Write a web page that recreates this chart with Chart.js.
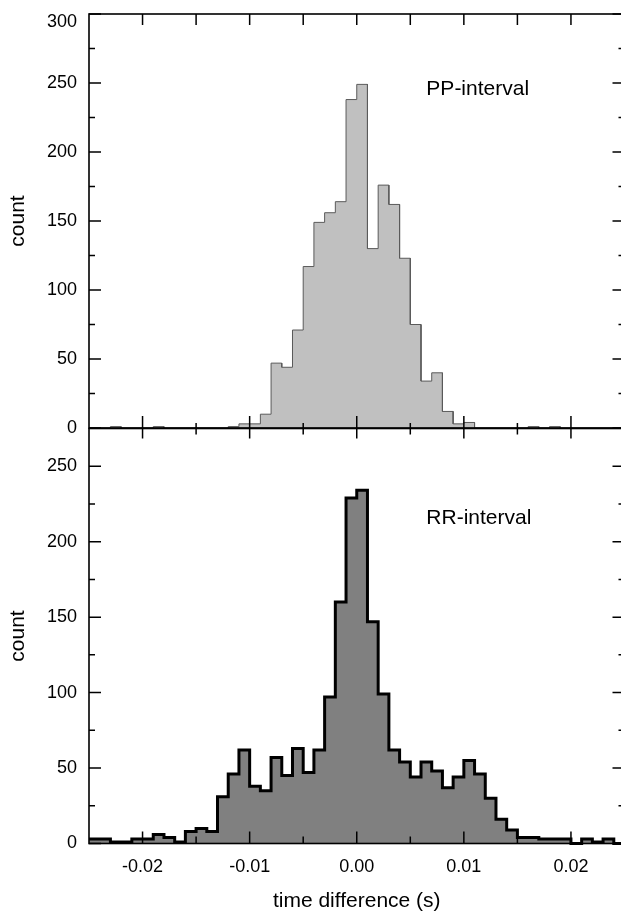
<!DOCTYPE html>
<html>
<head>
<meta charset="utf-8">
<script src="https://cdn.jsdelivr.net/npm/chart.js@4.4.1/dist/chart.umd.min.js"></script>
<style>
html,body{margin:0;padding:0;background:#fff;overflow:hidden;}
#wrap{position:relative;width:621px;height:915px;overflow:hidden;background:#fff;}
#wrap canvas{position:absolute;left:0;}
</style>
</head>
<body>
<div id="wrap">
  <canvas id="ppChart" width="626" height="439" style="top:0;width:626px;height:439px"></canvas>
  <canvas id="rrChart" width="626" height="498" style="top:417px;width:626px;height:498px"></canvas>
</div>
<script>
// ---- data ----
const binLeftEdges = [
  -0.025,-0.024,-0.023,-0.022,-0.021,-0.020,-0.019,-0.018,-0.017,-0.016,
  -0.015,-0.014,-0.013,-0.012,-0.011,-0.010,-0.009,-0.008,-0.007,-0.006,
  -0.005,-0.004,-0.003,-0.002,-0.001, 0.000, 0.001, 0.002, 0.003, 0.004,
   0.005, 0.006, 0.007, 0.008, 0.009, 0.010, 0.011, 0.012, 0.013, 0.014,
   0.015, 0.016, 0.017, 0.018, 0.019, 0.020, 0.021, 0.022, 0.023, 0.024
];
const binWidth = 0.001;
const ppCounts = [
  0,0,1,0,0,0,1,0,0,0,
  0,0,0,1,3,3,10,47,44,71,
  117,149,156,164,238,249,130,176,162,123,
  75,34,40,12,3,4,0,0,0,0,
  0,1,0,1,0,0,0,0,0,0
];
const rrCounts = [
  3,3,1,1,3,3,6,4,1,8,
  10,8,31,46,62,38,35,57,45,63,
  47,62,97,160,229,234,147,99,62,54,
  44,54,48,37,44,55,46,30,16,9,
  4,4,3,3,3,0,3,1,3,0
];
const xTickLabels = [-0.02, -0.01, 0.00, 0.01, 0.02];
const xMinorTicks = [-0.015, -0.005, 0.005, 0.015];
const yTicksPP = [0, 50, 100, 150, 200, 250, 300];
const yMinorPP = [25, 75, 125, 175, 225, 275];
const yTicksRR = [0, 50, 100, 150, 200, 250];
const yMinorRR = [25, 75, 125, 175, 225];

// ---- helpers ----
const FONT = "'Liberation Sans', Arial, Helvetica, sans-serif";
function stepPoints(edges, width, counts) {
  const pts = [];
  counts.forEach((c, i) => {
    pts.push({x: edges[i], y: c});
    pts.push({x: edges[i] + width, y: c});
  });
  return pts;
}

const frameTicks = {
  id: 'frameTicks',
  afterDatasetsDraw(chart, args, o) {
    const {ctx, chartArea: a, scales: {x, y}} = chart;
    ctx.save();
    ctx.strokeStyle = '#000';
    ctx.lineWidth = 1.5;
    ctx.beginPath();
    const seg = (x1, y1, x2, y2) => { ctx.moveTo(x1, y1); ctx.lineTo(x2, y2); };
    o.yMajor.forEach(v => { const p = y.getPixelForValue(v); seg(a.left, p, a.left + o.yMajorLen, p); seg(a.right - o.yMajorLen, p, a.right, p); });
    o.yMinor.forEach(v => { const p = y.getPixelForValue(v); seg(a.left, p, a.left + o.yMinorLen, p); seg(a.right - o.yMinorLen, p, a.right, p); });
    o.xMajor.forEach(v => { const p = x.getPixelForValue(v); seg(p, a.top, p, a.top + o.topMajorLen); seg(p, a.bottom, p, a.bottom - o.botMajorLen); });
    o.xMinor.forEach(v => { const p = x.getPixelForValue(v); seg(p, a.top, p, a.top + o.topMinorLen); seg(p, a.bottom, p, a.bottom - o.botMinorLen); });
    ctx.stroke();
    ctx.lineWidth = 1.6;
    ctx.strokeRect(a.left, a.top, a.right - a.left, a.bottom - a.top);
    ctx.fillStyle = '#000';
    ctx.font = '21px ' + FONT;
    ctx.textAlign = 'left';
    ctx.textBaseline = 'alphabetic';
    ctx.fillText(o.label.text, x.getPixelForValue(o.label.x), y.getPixelForValue(o.label.y));
    if (o.insetTopLabel !== undefined) {
      // top tick label sits just inside the frame, as in the reference
      ctx.font = '18px ' + FONT;
      ctx.textAlign = 'right';
      ctx.textBaseline = 'middle';
      ctx.fillText(String(o.insetTopLabel), a.left - 12, y.getPixelForValue(o.insetTopLabel) + 8);
    }
    ctx.restore();
  }
};

function makeChart(id, counts, fill, stroke, strokeW, yMax, yTicks, yMinor, showX, extra) {
  return new Chart(document.getElementById(id), {
    type: 'line',
    data: {
      datasets: [{
        data: stepPoints(binLeftEdges, binWidth, counts),
        fill: 'origin',
        backgroundColor: fill,
        borderColor: stroke,
        borderWidth: strokeW,
        pointRadius: 0,
        tension: 0,
        borderJoinStyle: 'miter',
        clip: 6
      }]
    },
    options: {
      responsive: false,
      animation: false,
      events: [],
      layout: {padding: extra.padding},
      plugins: {
        legend: {display: false},
        tooltip: {enabled: false},
        frameTicks: Object.assign({
          yMajor: yTicks, yMinor: yMinor, xMajor: xTickLabels, xMinor: xMinorTicks,
          yMajorLen: 12, yMinorLen: 6
        }, extra.ticks)
      },
      scales: {
        x: {
          type: 'linear', min: -0.025, max: 0.025,
          display: showX,
          grid: {display: false, drawTicks: false},
          border: {display: false},
          afterBuildTicks: s => { s.ticks = xTickLabels.map(v => ({value: v})); },
          afterFit: s => { if (showX) s.height = 71.5; },
          ticks: {
            autoSkip: false, maxRotation: 0, padding: 13,
            color: '#000', font: {family: FONT, size: 18},
            callback: v => Number(v).toFixed(2)
          },
          title: {display: showX, text: 'time difference (s)', color: '#000',
                  font: {family: FONT, size: 21}, padding: {top: 0, bottom: 1}}
        },
        y: {
          min: 0, max: yMax,
          grid: {display: false, drawTicks: true, tickLength: 12},
          border: {display: false},
          afterBuildTicks: s => { s.ticks = yTicks.map(v => ({value: v})); },
          afterFit: s => { s.width = 89; },
          ticks: {
            autoSkip: false, padding: 0, color: '#000', font: {family: FONT, size: 18},
            callback: v => (v === extra.ticks.insetTopLabel ? '' : String(v))
          },
          title: {display: true, text: 'count', color: '#000',
                  font: {family: FONT, size: 21}, padding: {top: 6, bottom: 0}}
        }
      }
    },
    plugins: [frameTicks]
  });
}

makeChart('ppChart', ppCounts, '#c0c0c0', '#5a5a5a', 1, 300, yTicksPP, yMinorPP, false, {
  padding: {top: 14, bottom: 11, left: 0, right: 1.5},
  ticks: {topMajorLen: 11, topMinorLen: 11, botMajorLen: 12, botMinorLen: 5,
          insetTopLabel: 300,
          label: {text: 'PP-interval', x: 0.0065, y: 241.5}}
});
makeChart('rrChart', rrCounts, '#808080', '#000000', 3, 275, yTicksRR, yMinorRR, true, {
  padding: {top: 11.5, bottom: 0, left: 0, right: 1.5},
  ticks: {topMajorLen: 10, topMinorLen: 6, botMajorLen: 12, botMinorLen: 7,
          label: {text: 'RR-interval', x: 0.0065, y: 211.4}}
});
</script>
</body>
</html>
